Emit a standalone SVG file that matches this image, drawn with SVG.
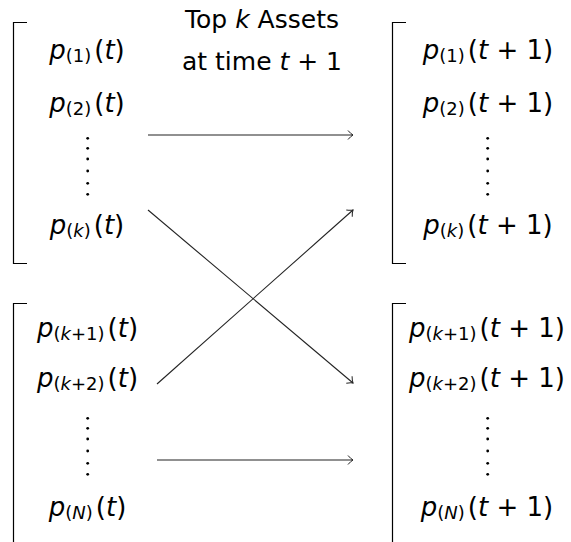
<svg xmlns="http://www.w3.org/2000/svg" width="571" height="542" viewBox="0 0 571 542">
<style>
text{font-family:"DejaVu Sans","Liberation Sans",sans-serif;fill:#000}
.m{font-size:26px;text-anchor:middle}
.t{font-size:25px;text-anchor:middle}
.i{font-style:oblique}
.s{font-size:18px}
.br{fill:none;stroke:#000;stroke-width:1.2}
.ar{fill:none;stroke:#222;stroke-width:1.1}
.dot{fill:#000}
</style>
<defs>
<marker id="ah" markerUnits="userSpaceOnUse" markerWidth="12" markerHeight="12" viewBox="-7 -6 8 12" refX="0" refY="0" orient="auto">
<path d="M-5,-4.5 Q-2,-1 0,0 Q-2,1 -5,4.5" fill="none" stroke="#222" stroke-width="1"/>
</marker>
<g id="vd">
<circle class="dot" cx="0" cy="0" r="1.4"/><circle class="dot" cx="0" cy="10" r="1.4"/><circle class="dot" cx="0" cy="20.7" r="1.4"/>
<circle class="dot" cx="0" cy="32.7" r="1.4"/><circle class="dot" cx="0" cy="45" r="1.4"/><circle class="dot" cx="0" cy="56" r="1.4"/>
</g>
</defs>

<g id="title">
<text class="t" x="262" y="28">Top <tspan class="i">k</tspan> Assets</text>
<text class="t" x="262" y="70">at time <tspan class="i">t</tspan> + 1</text>
</g>

<g id="top-current">
<path class="br" d="M27,22.5 H13.5 V263.5 H27"/>
<text class="m" x="87" y="58.5"><tspan class="i">p</tspan><tspan class="s" dy="3">(1)</tspan><tspan dy="-3" dx="3">(</tspan><tspan class="i">t</tspan>)</text>
<text class="m" x="87" y="112"><tspan class="i">p</tspan><tspan class="s" dy="3">(2)</tspan><tspan dy="-3" dx="3">(</tspan><tspan class="i">t</tspan>)</text>
<use href="#vd" x="87.7" y="138.3"/>
<text class="m" x="87" y="233.5"><tspan class="i">p</tspan><tspan class="s" dy="3">(<tspan class="i">k</tspan>)</tspan><tspan dy="-3" dx="3">(</tspan><tspan class="i">t</tspan>)</text>
</g>

<g id="top-next">
<path class="br" d="M406,22.5 H392.5 V263.5 H406"/>
<text class="m" x="488" y="58.5"><tspan class="i">p</tspan><tspan class="s" dy="3">(1)</tspan><tspan dy="-3" dx="3">(</tspan><tspan class="i">t</tspan> + 1)</text>
<text class="m" x="488" y="112"><tspan class="i">p</tspan><tspan class="s" dy="3">(2)</tspan><tspan dy="-3" dx="3">(</tspan><tspan class="i">t</tspan> + 1)</text>
<use href="#vd" x="487.7" y="138.3"/>
<text class="m" x="488" y="233.5"><tspan class="i">p</tspan><tspan class="s" dy="3">(<tspan class="i">k</tspan>)</tspan><tspan dy="-3" dx="3">(</tspan><tspan class="i">t</tspan> + 1)</text>
</g>

<g id="bottom-current">
<path class="br" d="M27,303.5 H13.5 V542"/>
<text class="m" x="87.5" y="337"><tspan class="i">p</tspan><tspan class="s" dy="3">(<tspan class="i">k</tspan>+1)</tspan><tspan dy="-3" dx="3">(</tspan><tspan class="i">t</tspan>)</text>
<text class="m" x="87.5" y="387"><tspan class="i">p</tspan><tspan class="s" dy="3">(<tspan class="i">k</tspan>+2)</tspan><tspan dy="-3" dx="3">(</tspan><tspan class="i">t</tspan>)</text>
<use href="#vd" x="87.7" y="418.3"/>
<text class="m" x="87.5" y="515.5"><tspan class="i">p</tspan><tspan class="s" dy="3">(<tspan class="i">N</tspan>)</tspan><tspan dy="-3" dx="3">(</tspan><tspan class="i">t</tspan>)</text>
</g>

<g id="bottom-next">
<path class="br" d="M406,303.5 H392.5 V542"/>
<text class="m" x="487" y="337"><tspan class="i">p</tspan><tspan class="s" dy="3">(<tspan class="i">k</tspan>+1)</tspan><tspan dy="-3" dx="3">(</tspan><tspan class="i">t</tspan> + 1)</text>
<text class="m" x="487" y="387"><tspan class="i">p</tspan><tspan class="s" dy="3">(<tspan class="i">k</tspan>+2)</tspan><tspan dy="-3" dx="3">(</tspan><tspan class="i">t</tspan> + 1)</text>
<use href="#vd" x="487.7" y="418.3"/>
<text class="m" x="487" y="515.5"><tspan class="i">p</tspan><tspan class="s" dy="3">(<tspan class="i">N</tspan>)</tspan><tspan dy="-3" dx="3">(</tspan><tspan class="i">t</tspan> + 1)</text>
</g>

<g id="connectors">
<line class="ar" x1="148" y1="135" x2="353" y2="135" marker-end="url(#ah)"/>
<line class="ar" x1="148" y1="210" x2="353" y2="383" marker-end="url(#ah)"/>
<line class="ar" x1="157" y1="384" x2="353" y2="210" marker-end="url(#ah)"/>
<line class="ar" x1="157" y1="460" x2="353" y2="460" marker-end="url(#ah)"/>
</g>
</svg>
